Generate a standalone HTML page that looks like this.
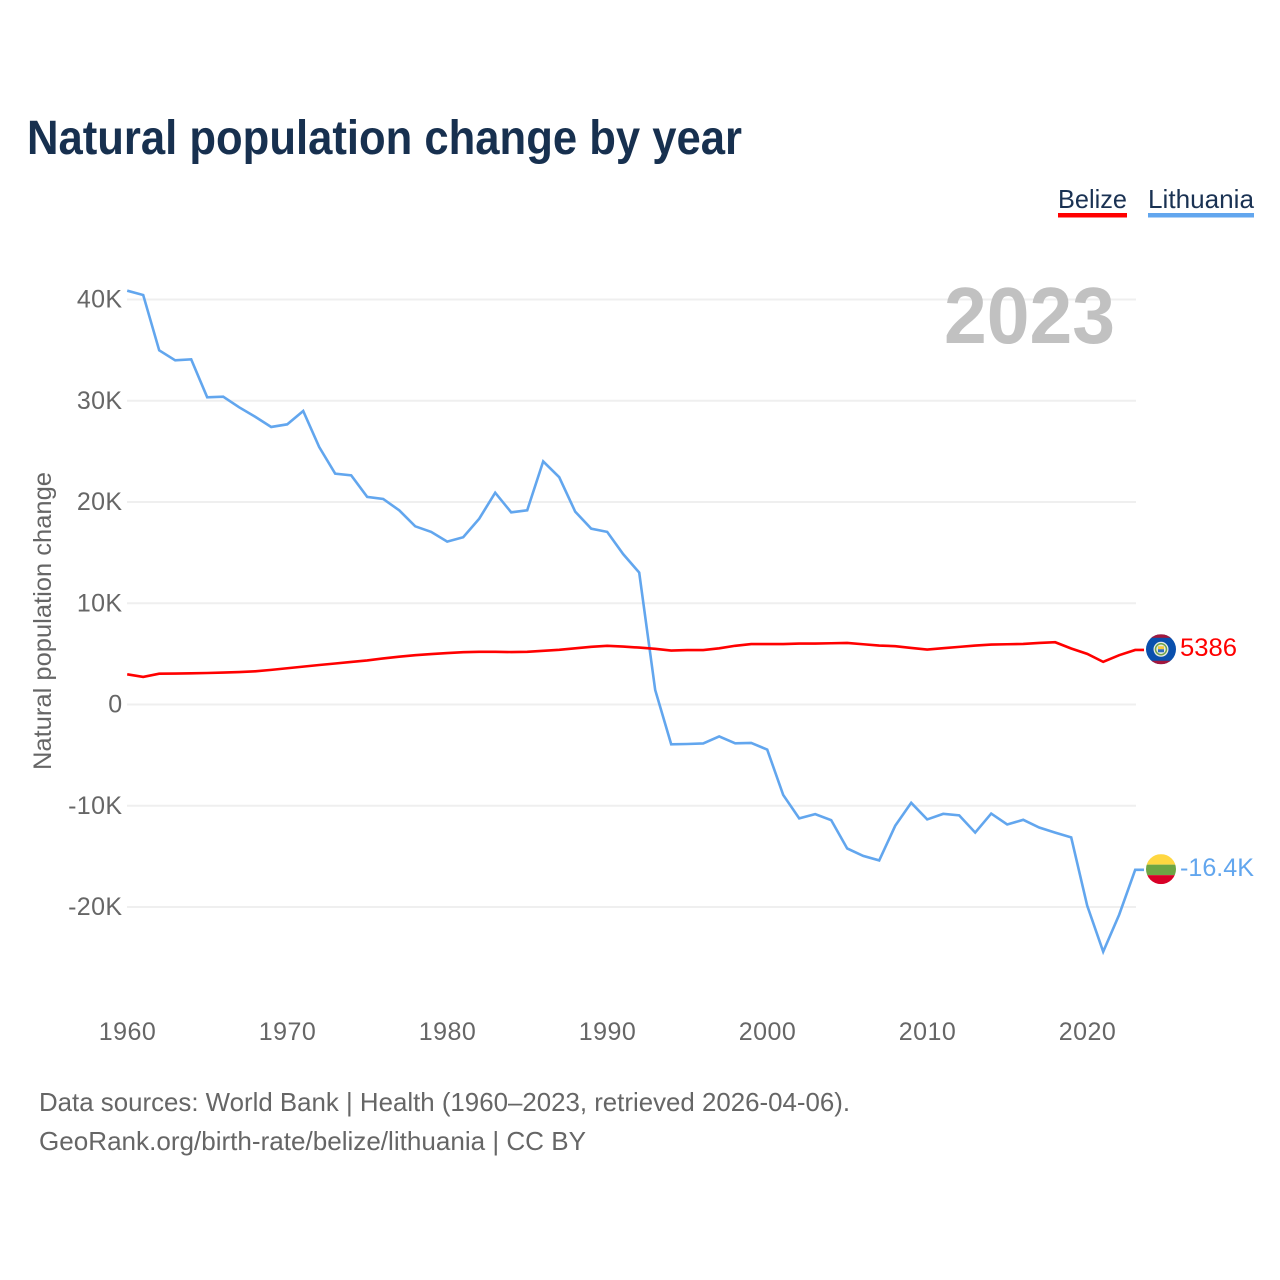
<!DOCTYPE html>
<html lang="en">
<head>
<meta charset="utf-8">
<title>Natural population change by year</title>
<style>
html,body{margin:0;padding:0;background:#fff;}
svg{display:block;}
text{font-family:"Liberation Sans",sans-serif;}
</style>
</head>
<body>
<svg id="chart" xmlns="http://www.w3.org/2000/svg" width="1280" height="1280" viewBox="0 0 1280 1280">
  <rect x="0" y="0" width="1280" height="1280" fill="#ffffff"/>
  <text x="27" y="154" font-size="48" font-weight="700" fill="#17304f" textLength="715" lengthAdjust="spacingAndGlyphs">Natural population change by year</text>

  <g>
    <text x="1058" y="208" font-size="26" fill="#1a3253" textLength="69" lengthAdjust="spacingAndGlyphs">Belize</text>
    <rect x="1058" y="213" width="69" height="4.5" fill="#ff0000"/>
  </g>
  <g>
    <text x="1148" y="208" font-size="26" fill="#1a3253" textLength="106" lengthAdjust="spacingAndGlyphs">Lithuania</text>
    <rect x="1148" y="213" width="106" height="4.5" fill="#62a6ee"/>
  </g>

  <g id="grid"></g>
  <text x="944" y="343" font-size="80" font-weight="700" fill="#c1c1c1" textLength="171" lengthAdjust="spacingAndGlyphs">2023</text>
  <g id="y-ticks"></g>
  <g id="x-ticks"></g>
  <text transform="translate(51,621) rotate(-90)" text-anchor="middle" font-size="25" fill="#666666" textLength="298" lengthAdjust="spacingAndGlyphs">Natural population change</text>

  <g id="series"></g>

  <defs>
    <clipPath id="clip-bz"><circle cx="0" cy="0" r="15"/></clipPath>
    <clipPath id="clip-lt"><circle cx="0" cy="0" r="15"/></clipPath>
  </defs>
  <g id="flag-belize">
    <g clip-path="url(#clip-bz)">
      <rect x="-15" y="-15" width="30" height="30" fill="#0a50ad"/>
      <rect x="-15" y="-15" width="30" height="3.5" fill="#a2173d"/>
      <rect x="-15" y="11.5" width="30" height="3.5" fill="#a2173d"/>
    </g>
    <circle cx="0" cy="0" r="7.5" fill="#e8ece4"/>
    <circle cx="0" cy="0" r="5.5" fill="none" stroke="#6fa34a" stroke-width="1.5"/>
    <rect x="-3" y="-3" width="6" height="3" fill="#f5c93a"/>
    <rect x="-3" y="0" width="6" height="3" fill="#2b6bc0"/>
  </g>
  <g id="flag-lithuania">
    <g clip-path="url(#clip-lt)">
      <rect x="-15" y="-15" width="30" height="10.5" fill="#ffd741"/>
      <rect x="-15" y="-4.5" width="30" height="10.5" fill="#6da544"/>
      <rect x="-15" y="6" width="30" height="9" fill="#d80027"/>
    </g>
  </g>
  <text id="value-belize" x="1180" y="656" font-size="25" fill="#ff0000" textLength="57" lengthAdjust="spacingAndGlyphs">5386</text>
  <text id="value-lithuania" x="1180" y="876" font-size="25" fill="#62a6ee" textLength="74" lengthAdjust="spacingAndGlyphs">-16.4K</text>

  <text x="39" y="1111" font-size="26" fill="#666666" textLength="811" lengthAdjust="spacingAndGlyphs">Data sources: World Bank | Health (1960–2023, retrieved 2026-04-06).</text>
  <text x="39" y="1150" font-size="26" fill="#666666" textLength="547" lengthAdjust="spacingAndGlyphs">GeoRank.org/birth-rate/belize/lithuania | CC BY</text>
</svg>
<script>
const startYear = 1960;
const belizeValues = [2.98,2.72,3.04,3.06,3.08,3.11,3.15,3.2,3.28,3.42,3.58,3.74,3.9,4.05,4.2,4.35,4.55,4.72,4.87,4.98,5.08,5.17,5.2,5.2,5.18,5.2,5.3,5.4,5.55,5.7,5.8,5.72,5.62,5.5,5.33,5.38,5.38,5.55,5.8,5.97,5.97,5.97,6.02,6.02,6.05,6.08,5.95,5.82,5.76,5.59,5.43,5.56,5.69,5.82,5.92,5.95,5.98,6.08,6.15,5.53,5.0,4.21,4.87,5.386];
const lithuaniaValues = [40.87,40.44,34.98,33.99,34.09,30.34,30.4,29.35,28.42,27.41,27.67,28.99,25.43,22.8,22.63,20.5,20.3,19.18,17.6,17.05,16.09,16.52,18.35,20.92,18.98,19.18,24.01,22.45,19.05,17.37,17.05,14.85,13.03,1.43,-3.93,-3.9,-3.85,-3.15,-3.83,-3.8,-4.45,-8.93,-11.25,-10.83,-11.42,-14.22,-14.95,-15.4,-11.98,-9.71,-11.35,-10.8,-10.95,-12.65,-10.77,-11.85,-11.39,-12.15,-12.65,-13.13,-19.87,-24.41,-20.75,-16.33];
const yTickValues = [40,30,20,10,0,-10,-20];
const yTickLabels = ['40K','30K','20K','10K','0','-10K','-20K'];
const xTickYears = [1960,1970,1980,1990,2000,2010,2020];

const SVGNS = 'http://www.w3.org/2000/svg';
function xScale(year){ return 127.2 + (year - 1960) * 16; }
function yScale(v){ return 704.5 - v * 10.125; }
const plotRight = 1136;
const connectorEnd = 1144;

const gridGroup = document.getElementById('grid');
const yGroup = document.getElementById('y-ticks');
const xGroup = document.getElementById('x-ticks');
const seriesGroup = document.getElementById('series');

yTickValues.forEach(function(v, i){
  const line = document.createElementNS(SVGNS, 'line');
  
  
  line.setAttribute('x1', 127);
  line.setAttribute('x2', plotRight);
  line.setAttribute('y1', yScale(v));
  line.setAttribute('y2', yScale(v));
  line.setAttribute('stroke', '#efefef');
  line.setAttribute('stroke-width', 2);
  gridGroup.appendChild(line);

  const t = document.createElementNS(SVGNS, 'text');
  
  
  t.setAttribute('x', 122.5);
  t.setAttribute('y', yScale(v) + 8);
  t.setAttribute('text-anchor', 'end');
  t.setAttribute('font-size', 25);
  t.setAttribute('fill', '#666666');
  t.setAttribute('letter-spacing', '0.4');
  t.textContent = yTickLabels[i];
  yGroup.appendChild(t);
});

xTickYears.forEach(function(year){
  const t = document.createElementNS(SVGNS, 'text');
  
  
  t.setAttribute('x', xScale(year) + 0.3);
  t.setAttribute('y', 1040);
  t.setAttribute('text-anchor', 'middle');
  t.setAttribute('font-size', 25);
  t.setAttribute('fill', '#666666');
  t.setAttribute('letter-spacing', '0.5');
  t.textContent = String(year);
  xGroup.appendChild(t);
});

function buildPoints(values){
  const pts = values.map(function(v, i){
    return xScale(startYear + i).toFixed(2) + ',' + yScale(v).toFixed(2);
  });
  const last = values[values.length - 1];
  pts.push(connectorEnd + ',' + yScale(last).toFixed(2));
  return pts.join(' ');
}

const lithuaniaLine = document.createElementNS(SVGNS, 'polyline');


lithuaniaLine.setAttribute('points', buildPoints(lithuaniaValues));
lithuaniaLine.setAttribute('fill', 'none');
lithuaniaLine.setAttribute('stroke', '#62a6ee');
lithuaniaLine.setAttribute('stroke-width', 2.6);
seriesGroup.appendChild(lithuaniaLine);

const belizeLine = document.createElementNS(SVGNS, 'polyline');


belizeLine.setAttribute('points', buildPoints(belizeValues));
belizeLine.setAttribute('fill', 'none');
belizeLine.setAttribute('stroke', '#ff0000');
belizeLine.setAttribute('stroke-width', 2.6);
seriesGroup.appendChild(belizeLine);

const belizeY = yScale(belizeValues[belizeValues.length - 1]);
const lithuaniaY = yScale(lithuaniaValues[lithuaniaValues.length - 1]);
document.getElementById('flag-belize').setAttribute('transform', 'translate(1161,' + (belizeY - 0.7) + ')');
document.getElementById('flag-lithuania').setAttribute('transform', 'translate(1161,' + (lithuaniaY - 0.7) + ')');
document.getElementById('value-belize').setAttribute('y', belizeY + 6);
document.getElementById('value-lithuania').setAttribute('y', lithuaniaY + 6);
</script>
</body>
</html>
